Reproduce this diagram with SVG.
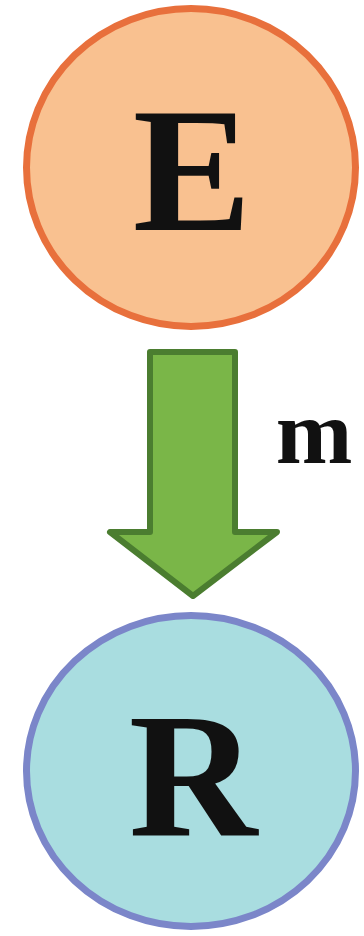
<svg xmlns="http://www.w3.org/2000/svg" width="364" height="936" viewBox="0 0 364 936">
<style>
.lbl{font-family:"Liberation Serif","Times New Roman",serif;font-weight:bold;fill:#111;text-anchor:middle}
</style>
<rect width="364" height="936" fill="#ffffff"/>
<g id="node-E">
<ellipse cx="191" cy="167.5" rx="164.5" ry="159" fill="#f9c190" stroke="#e8703c" stroke-width="7"/>
<text class="lbl" x="192" y="230" font-size="178">E</text>
</g>
<g id="node-R">
<ellipse cx="191" cy="771" rx="164.5" ry="155.5" fill="#a9dde0" stroke="#7b86c9" stroke-width="7"/>
<text class="lbl" x="193" y="835" font-size="178">R</text>
</g>
<g id="connectors">
<path d="M150,352 L235,352 L235,532 L277,532 L193,596 L110,532 L150,532 Z" fill="#7ab648" stroke="#4b7d30" stroke-width="6" stroke-linejoin="round"/>
<text class="lbl" x="314" y="463" font-size="92">m</text>
</g>
</svg>
